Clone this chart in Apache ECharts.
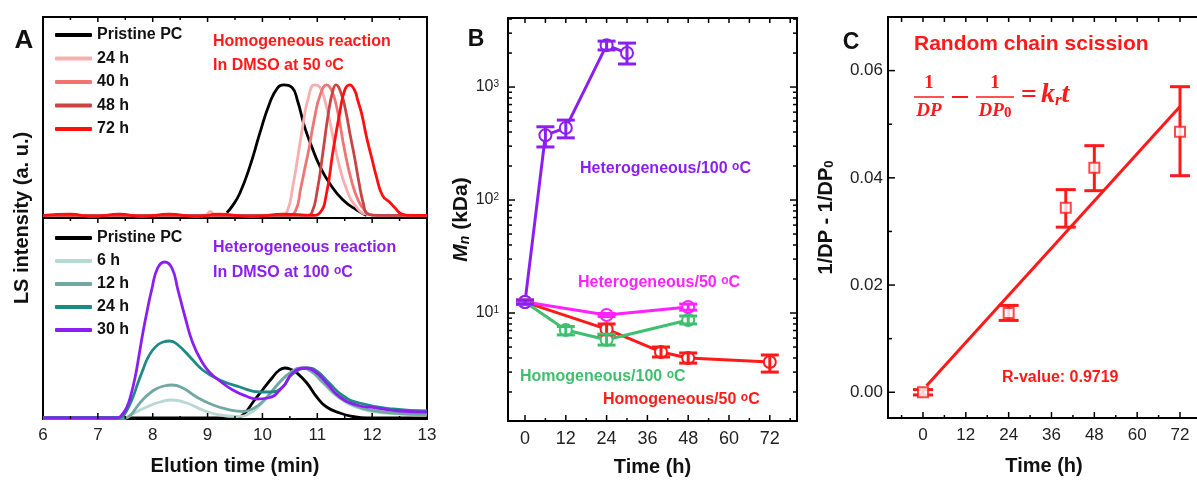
<!DOCTYPE html>
<html><head><meta charset="utf-8">
<script src="https://cdn.jsdelivr.net/npm/echarts@6/dist/echarts.min.js"></script>
<style>html,body{margin:0;padding:0;background:#fff}#c{width:1197px;height:480px}</style>
</head><body><div id="c"></div>
<script>
// ---------- Panel A (top): homogeneous reaction, DMSO 50 °C — normalized LS intensity ----------
const aTopPristineT = [9.35, 9.45, 9.59, 9.77, 9.95, 10.13, 10.28, 10.39, 10.54, 10.64, 10.77, 10.9, 11.05, 11.23, 11.46, 11.72, 11.9];
const aTopPristineV = [0.03, 0.08, 0.18, 0.38, 0.63, 0.86, 0.98, 1.0, 0.98, 0.88, 0.68, 0.53, 0.38, 0.25, 0.13, 0.05, 0.01];
const aTop24T = [6, 8, 8.95, 9.05, 9.15, 10.35, 10.46, 10.55, 10.64, 10.74, 10.83, 10.95, 11.05, 11.14, 11.26, 11.37, 11.54, 11.72, 11.9, 12.2, 13];
const aTop24V = [0.01, 0.01, 0.01, 0.04, 0.01, 0.01, 0.05, 0.22, 0.44, 0.7, 0.89, 1.0, 0.98, 0.88, 0.66, 0.44, 0.2, 0.07, 0.02, 0.01, 0.01];
const aTop40T = [6, 8.0, 10.45, 10.6, 10.7, 10.78, 10.85, 10.95, 11.05, 11.17, 11.27, 11.37, 11.5, 11.62, 11.75, 11.88, 12.0, 12.3, 13];
const aTop40V = [0.01, 0.01, 0.01, 0.04, 0.22, 0.38, 0.52, 0.75, 0.92, 1.0, 0.95, 0.8, 0.5, 0.28, 0.12, 0.04, 0.01, 0.01, 0.01];
const aTop48T = [6, 8, 10.8, 10.9, 11.0, 11.1, 11.2, 11.28, 11.34, 11.44, 11.52, 11.6, 11.68, 11.76, 11.84, 11.92, 12.1, 13];
const aTop48V = [0.01, 0.01, 0.01, 0.03, 0.2, 0.48, 0.78, 0.95, 1.0, 0.93, 0.8, 0.62, 0.45, 0.26, 0.1, 0.02, 0.01, 0.01];
const aTop72T = [6, 6.5, 6.9, 7.4, 7.8, 8.3, 8.8, 9.2, 9.8, 10.4, 10.9, 11.05, 11.17, 11.28, 11.41, 11.5, 11.59, 11.68, 11.74, 11.81, 11.9, 11.99, 12.08, 12.19, 12.32, 12.41, 12.54, 12.7, 13];
const aTop72V = [0.01, 0.02, 0.0, 0.02, 0.0, 0.02, 0.0, 0.02, 0.0, 0.02, 0.01, 0.03, 0.18, 0.48, 0.79, 0.96, 1.0, 0.96, 0.88, 0.78, 0.6, 0.45, 0.3, 0.16, 0.11, 0.07, 0.02, 0.01, 0.01];

// ---------- Panel A (bottom): heterogeneous reaction, DMSO 100 °C ----------
const aBotPristineT = [6, 9.5, 9.6, 9.7, 9.83, 10.0, 10.19, 10.3, 10.41, 10.52, 10.63, 10.81, 10.99, 11.17, 11.41, 11.65, 11.9, 13];
const aBotPristineV = [0, 0, 0.03, 0.12, 0.32, 0.56, 0.82, 0.95, 1.0, 0.97, 0.9, 0.7, 0.42, 0.22, 0.1, 0.03, 0.0, 0.0];
const aBot6T = [6, 7.5, 7.58, 7.7, 7.89, 8.13, 8.35, 8.62, 8.91, 9.22, 9.53, 9.75, 9.95, 10.15, 10.35, 10.55, 10.7, 10.9, 11.1, 11.4, 11.7, 12.0, 12.5, 13];
const aBot6V = [0, 0, 0.05, 0.12, 0.22, 0.32, 0.36, 0.3, 0.16, 0.06, 0.03, 0.08, 0.25, 0.5, 0.75, 0.93, 1.0, 0.92, 0.7, 0.4, 0.22, 0.13, 0.08, 0.06];
const aBot12T = [6, 7.5, 7.6, 7.71, 7.83, 7.95, 8.06, 8.17, 8.35, 8.55, 8.8, 9.1, 9.41, 9.65, 9.85, 10.05, 10.3, 10.5, 10.7, 10.9, 11.1, 11.4, 11.7, 12.0, 12.5, 13];
const aBot12V = [0, 0, 0.06, 0.22, 0.38, 0.5, 0.58, 0.63, 0.66, 0.6, 0.42, 0.26, 0.16, 0.13, 0.2, 0.38, 0.7, 0.9, 1.0, 0.93, 0.72, 0.42, 0.24, 0.15, 0.09, 0.07];
const aBot24T = [6, 7.4, 7.46, 7.55, 7.64, 7.73, 7.82, 7.9, 8.0, 8.1, 8.19, 8.31, 8.46, 8.68, 8.91, 9.22, 9.59, 9.95, 10.15, 10.37, 10.55, 10.83, 11.0, 11.2, 11.46, 11.77, 12.38, 13];
const aBot24V = [0.01, 0.01, 0.04, 0.2, 0.42, 0.7, 0.96, 1.18, 1.36, 1.47, 1.52, 1.54, 1.46, 1.22, 0.96, 0.76, 0.62, 0.52, 0.52, 0.62, 0.88, 1.0, 0.93, 0.72, 0.45, 0.3, 0.18, 0.14];
const aBot30T = [6, 7.35, 7.45, 7.53, 7.6, 7.68, 7.75, 7.82, 7.9, 7.98, 8.09, 8.22, 8.35, 8.46, 8.59, 8.73, 8.91, 9.05, 9.2, 9.46, 9.7, 9.9, 10.1, 10.37, 10.55, 10.8, 10.99, 11.17, 11.41, 11.72, 12.08, 12.5, 13];
const aBot30V = [0, 0, 0.08, 0.22, 0.45, 0.82, 1.25, 1.7, 2.15, 2.56, 3.0, 3.12, 3.0, 2.56, 2.02, 1.5, 1.1, 0.9, 0.76, 0.56, 0.44, 0.38, 0.4, 0.62, 0.9, 1.0, 0.9, 0.7, 0.42, 0.26, 0.2, 0.14, 0.12];
const aXMajor = [7, 8, 9, 10, 11, 12];
const aXMinor = [6.5, 7.5, 8.5, 9.5, 10.5, 11.5, 12.5];

// ---------- Panel B: Mn (kDa) vs time (h) ----------
const bHet100T = [0, 6, 12, 24, 30];
const bHet100M = [12.5, 375, 435, 2350, 2000];
const bHet100Lo = [12.0, 295, 355, 2130, 1600];
const bHet100Hi = [13.0, 445, 510, 2550, 2450];
const bHet50T = [0, 24, 48];
const bHet50M = [12.5, 9.6, 11.3];
const bHet50Lo = [12.0, 9.3, 10.6];
const bHet50Hi = [13.0, 9.9, 12.0];
const bHom100T = [0, 12, 24, 48];
const bHom100M = [12.5, 7.07, 5.8, 8.67];
const bHom100Lo = [12.0, 6.4, 5.2, 8.0];
const bHom100Hi = [13.0, 7.6, 6.5, 9.4];
const bHom50T = [0, 24, 40, 48, 72];
const bHom50M = [12.5, 7.2, 4.52, 4.0, 3.68];
const bHom50Lo = [12.0, 6.4, 4.08, 3.6, 3.0];
const bHom50Hi = [13.0, 8.0, 5.0, 4.43, 4.25];
const bXMajor = [0, 12, 24, 36, 48, 60, 72];
const bXMinor = [6, 18, 30, 42, 54, 66, 78];
const bXTop = [0, 6, 12, 18, 24, 30, 36, 42, 48, 54, 60, 66, 72, 78];
const bYMajor = [10, 100, 1000];
const bYMinor = [2, 3, 4, 5, 6, 7, 8, 9, 20, 30, 40, 50, 60, 70, 80, 90, 200, 300, 400, 500, 600, 700, 800, 900, 2000, 3000, 4000];

// ---------- Panel C: 1/DP - 1/DP0 vs time ----------
const cT = [0, 24, 40, 48, 72];
const cV = [0, 0.0148, 0.0344, 0.0419, 0.0486];
const cLo = [-0.0005, 0.0134, 0.0308, 0.0376, 0.0404];
const cHi = [0.0005, 0.0162, 0.0378, 0.0460, 0.0570];
const cFitT = [1, 72];
const cFitV = [0.00123, 0.0533];
const cXMajor = [0, 12, 24, 36, 48, 60, 72];
const cXMinor = [-6, 6, 18, 30, 42, 54, 66];
const cXTop = [-6, 0, 6, 12, 18, 24, 30, 36, 42, 48, 54, 60, 66, 72];
const cYMajor = [0, 0.02, 0.04, 0.06];
const cYMinor = [0.01, 0.03, 0.05];

// ---------- axis ranges ----------
const aTopY = [-0.01, 1.516], aBotY = [-0.02, 4.0], aX = [6, 13];
const bX = [-5, 80], bY = [1.107, 4085];
const cX = [-9.8, 77.6], cY = [-0.0048, 0.07];

// ---------- styling ----------
const FF = "'Liberation Sans', Arial, sans-serif";
const SERIF = "'Liberation Serif', 'DejaVu Serif', serif";
const PURPLE = '#8B1FF2', MAGENTA = '#FF22FF', GREEN = '#3FBF6F', RED = '#FF1A1A';
const cols = {p0: '#000000', h24: '#F7B0B0', h40: '#F07575', h48: '#C84545', h72: '#FF1010',
  g6: '#B8D8D4', g12: '#72A8A4', g24: '#1E8A86', g30: PURPLE};

const zip = (xs, ys) => xs.map((x, i) => [x, ys[i]]);
const zip3 = (xs, a, b) => xs.map((x, i) => [x, a[i], b[i]]);
const NOLINE = {show: false, onZero: false};

function curve(name, T, V, color, xi, yi) {
  return {name, type: 'line', xAxisIndex: xi, yAxisIndex: yi, data: zip(T, V), showSymbol: false,
    smooth: 0.5, lineStyle: {color, width: 2.8}, itemStyle: {color}, z: 2, silent: true};
}
function errSeries(T, Lo, Hi, color, xi, yi, capW, z) {
  return {type: 'custom', xAxisIndex: xi, yAxisIndex: yi, data: zip3(T, Lo, Hi), z, silent: true,
    encode: {x: 0, y: [1, 2]},
    renderItem: function (params, api) {
      const x = api.value(0), lo = api.value(1), hi = api.value(2);
      const a = api.coord([x, lo]), b = api.coord([x, hi]);
      const st = {stroke: color, lineWidth: 3};
      return {type: 'group', children: [
        {type: 'line', shape: {x1: a[0], y1: a[1], x2: b[0], y2: b[1]}, style: st},
        {type: 'line', shape: {x1: a[0] - capW / 2, y1: a[1], x2: a[0] + capW / 2, y2: a[1]}, style: st},
        {type: 'line', shape: {x1: b[0] - capW / 2, y1: b[1], x2: b[0] + capW / 2, y2: b[1]}, style: st}
      ]};
    }};
}
function mnSeries(T, M, color) {
  return {type: 'line', xAxisIndex: 2, yAxisIndex: 2, data: zip(T, M), symbol: 'emptyCircle', symbolSize: 12,
    lineStyle: {color, width: 3}, itemStyle: {color, borderWidth: 2}, z: 2, silent: true};
}
const lab = (size, margin) => ({show: true, fontSize: size, color: '#222', fontFamily: FF, margin});
const nameStyle = {fontSize: 20, fontWeight: 'bold', color: '#111', fontFamily: FF};
const gridBase = {show: true, borderColor: '#000', borderWidth: 2, backgroundColor: 'transparent', containLabel: false, outerBoundsMode: 'none'};
const common = {axisLine: NOLINE, axisTick: {show: false}, splitLine: {show: false}};

const GRIDS = [
  {left: 43, top: 17, width: 384, height: 201},
  {left: 43, top: 218, width: 384, height: 201},
  {left: 508, top: 18, width: 289, height: 403},
  {left: 888, top: 17, width: 312, height: 401}
];

const xAxis = [
  Object.assign({gridIndex: 0, type: 'value', min: aX[0], max: aX[1], interval: 1, axisLabel: {show: false}}, common),
  Object.assign({gridIndex: 1, type: 'value', min: aX[0], max: aX[1], interval: 1, axisLabel: lab(17, 8),
    name: 'Elution time (min)', nameLocation: 'middle', nameGap: 37, nameTextStyle: nameStyle}, common),
  Object.assign({gridIndex: 2, type: 'value', min: bX[0], max: bX[1], axisLabel: Object.assign(lab(18, 9), {customValues: bXMajor}),
    name: 'Time (h)', nameLocation: 'middle', nameGap: 36, nameTextStyle: nameStyle}, common),
  Object.assign({gridIndex: 3, type: 'value', min: cX[0], max: cX[1], axisLabel: Object.assign(lab(17, 9), {customValues: cXMajor}),
    name: 'Time (h)', nameLocation: 'middle', nameGap: 38, nameTextStyle: nameStyle}, common)
];

const yAxis = [
  Object.assign({gridIndex: 0, type: 'value', min: aTopY[0], max: aTopY[1], axisLabel: {show: false}}, common),
  Object.assign({gridIndex: 1, type: 'value', min: aBotY[0], max: aBotY[1], axisLabel: {show: false}}, common),
  Object.assign({gridIndex: 2, type: 'log', logBase: 10, min: bY[0], max: bY[1], position: 'left',
    axisLabel: {show: true, margin: 9, customValues: bYMajor,
      formatter: v => '{b|10}{s|' + Math.round(Math.log10(v)) + '}',
      rich: {b: {fontSize: 16, color: '#222', fontFamily: FF}, s: {fontSize: 10, color: '#222', fontFamily: FF, verticalAlign: 'top'}}},
    name: '{m|M}{n|n}{k| (kDa)}', nameLocation: 'middle', nameGap: 36,
    nameTextStyle: {rich: {
      m: {fontSize: 21, fontWeight: 'bold', fontStyle: 'italic', color: '#111', fontFamily: FF},
      n: {fontSize: 14, fontWeight: 'bold', fontStyle: 'italic', color: '#111', fontFamily: FF, verticalAlign: 'bottom'},
      k: {fontSize: 21, fontWeight: 'bold', color: '#111', fontFamily: FF}}}}, common),
  Object.assign({gridIndex: 3, type: 'value', min: cY[0], max: cY[1], position: 'left',
    axisLabel: Object.assign(lab(17, 5), {customValues: cYMajor, formatter: v => v.toFixed(2)}),
    name: '{a|1/DP - 1/DP}{b|0}', nameLocation: 'middle', nameGap: 52,
    nameTextStyle: {rich: {a: {fontSize: 20, fontWeight: 'bold', color: '#111', fontFamily: FF},
      b: {fontSize: 13, fontWeight: 'bold', color: '#111', fontFamily: FF, verticalAlign: 'bottom'}}}}, common)
];

const series = [
  curve('Pristine PC', aTopPristineT, aTopPristineV, cols.p0, 0, 0),
  curve('24 h', aTop24T, aTop24V, cols.h24, 0, 0),
  curve('40 h', aTop40T, aTop40V, cols.h40, 0, 0),
  curve('48 h', aTop48T, aTop48V, cols.h48, 0, 0),
  curve('72 h', aTop72T, aTop72V, cols.h72, 0, 0),
  curve('Pristine PC', aBotPristineT, aBotPristineV, cols.p0, 1, 1),
  curve('6 h', aBot6T, aBot6V, cols.g6, 1, 1),
  curve('12 h', aBot12T, aBot12V, cols.g12, 1, 1),
  curve('24 h ', aBot24T, aBot24V, cols.g24, 1, 1),
  curve('30 h', aBot30T, aBot30V, cols.g30, 1, 1),
  mnSeries(bHom50T, bHom50M, RED),
  mnSeries(bHom100T, bHom100M, GREEN),
  mnSeries(bHet50T, bHet50M, MAGENTA),
  mnSeries(bHet100T, bHet100M, PURPLE),
  errSeries(bHom50T, bHom50Lo, bHom50Hi, RED, 2, 2, 18, 3),
  errSeries(bHom100T, bHom100Lo, bHom100Hi, GREEN, 2, 2, 18, 3),
  errSeries(bHet50T, bHet50Lo, bHet50Hi, MAGENTA, 2, 2, 18, 3),
  errSeries(bHet100T, bHet100Lo, bHet100Hi, PURPLE, 2, 2, 18, 3),
  errSeries(cT, cLo, cHi, RED, 3, 3, 20, 3),
  {type: 'line', xAxisIndex: 3, yAxisIndex: 3, data: zip(cFitT, cFitV), showSymbol: false, lineStyle: {color: RED, width: 3}, z: 4, silent: true},
  {type: 'scatter', xAxisIndex: 3, yAxisIndex: 3, data: zip(cT, cV), symbol: 'rect', symbolSize: 10,
    itemStyle: {color: '#fff', borderColor: RED, borderWidth: 2}, z: 5, silent: true}
];

const legendBase = {orient: 'vertical', left: 55, itemWidth: 37, itemHeight: 4, icon: 'roundRect', padding: 0,
  selectedMode: false, textStyle: {fontSize: 16, fontWeight: 'bold', color: '#111', fontFamily: FF, lineHeight: 16}};

function txt(x, y, text, color, size) {
  return {type: 'text', x, y, silent: true, style: {text, fill: color, fontSize: size, fontWeight: 'bold',
    fontFamily: FF, align: 'left', verticalAlign: 'middle'}};
}
function degTxt(x, y, before, color, size) {
  return {type: 'text', x, y, silent: true, style: {text: '{t|' + before + '}{o|o}{t|C}', fill: color,
    align: 'left', verticalAlign: 'middle',
    rich: {t: {fontSize: size, fontWeight: 'bold', fontFamily: FF, fill: color},
           o: {fontSize: Math.round(size * 0.72), fontWeight: 'bold', fontFamily: FF, fill: color, verticalAlign: 'top'}}}};
}
const serif = (x, y, text, size, align, italic) => ({type: 'text', x, y, silent: true, style: {text, fill: RED, fontSize: size,
  fontWeight: 'bold', fontStyle: italic ? 'italic' : 'normal', fontFamily: SERIF, align: align || 'center', verticalAlign: 'middle'}});
const ctr = (x, y, text, size) => ({type: 'text', x, y, silent: true, style: {text, fill: '#111', fontSize: size, fontWeight: 'bold', fontFamily: FF, align: 'center', verticalAlign: 'middle'}});

const graphic = [
  ctr(24, 41, 'A', 26),
  ctr(476, 40, 'B', 23),
  ctr(851, 43, 'C', 23),
  {type: 'text', x: 22, y: 218, rotation: Math.PI / 2, silent: true,
    style: {text: 'LS intensity (a. u.)', fill: '#111', fontSize: 20, fontWeight: 'bold', fontFamily: FF, align: 'center', verticalAlign: 'middle'}},
  txt(213, 42, 'Homogeneous reaction', RED, 16),
  degTxt(213, 66, 'In DMSO at 50 ', RED, 16),
  txt(213, 248, 'Heterogeneous reaction', PURPLE, 16),
  degTxt(213, 273, 'In DMSO at 100 ', PURPLE, 16),
  degTxt(580, 169, 'Heterogeneous/100 ', PURPLE, 16),
  degTxt(578, 283, 'Heterogeneous/50 ', MAGENTA, 16),
  degTxt(520, 377, 'Homogeneous/100 ', GREEN, 16),
  degTxt(603, 400, 'Homogeneous/50 ', RED, 16),
  txt(914, 44, 'Random chain scission', RED, 21),
  txt(1002, 378, 'R-value: 0.9719', RED, 16),
  serif(929, 83, '1', 19),
  {type: 'line', silent: true, shape: {x1: 914, y1: 97, x2: 944, y2: 97}, style: {stroke: RED, lineWidth: 1.5}},
  serif(929, 111, 'DP', 19, 'center', true),
  {type: 'line', silent: true, shape: {x1: 952, y1: 97, x2: 968, y2: 97}, style: {stroke: RED, lineWidth: 2}},
  serif(995, 83, '1', 19),
  {type: 'line', silent: true, shape: {x1: 976, y1: 97, x2: 1014, y2: 97}, style: {stroke: RED, lineWidth: 1.5}},
  {type: 'text', x: 995, y: 111, silent: true, style: {text: '{a|DP}{b|0}', fill: RED, align: 'center', verticalAlign: 'middle',
    rich: {a: {fontSize: 19, fontWeight: 'bold', fontStyle: 'italic', fontFamily: SERIF, fill: RED},
           b: {fontSize: 15, fontWeight: 'bold', fontFamily: SERIF, fill: RED, verticalAlign: 'bottom'}}}},
  serif(1029, 96, '=', 28),
  {type: 'text', x: 1041, y: 95, silent: true, style: {text: '{k|k}{r|r}{k|t}', fill: RED, align: 'left', verticalAlign: 'middle',
    rich: {k: {fontSize: 28, fontWeight: 'bold', fontStyle: 'italic', fontFamily: SERIF, fill: RED},
           r: {fontSize: 17, fontWeight: 'bold', fontStyle: 'italic', fontFamily: SERIF, fill: RED, verticalAlign: 'bottom'}}}}
];

// inward tick marks as graphic lines (drawn in the same pass as the other graphic elements)
const AXES = [
  {x: aX, y: aTopY, logY: false}, {x: aX, y: aBotY, logY: false},
  {x: bX, y: bY, logY: true}, {x: cX, y: cY, logY: false}
];
function toPx(gi, pt) {
  const g = GRIDS[gi], ax = AXES[gi];
  const fx = (pt[0] - ax.x[0]) / (ax.x[1] - ax.x[0]);
  const fy = ax.logY
    ? (Math.log10(pt[1]) - Math.log10(ax.y[0])) / (Math.log10(ax.y[1]) - Math.log10(ax.y[0]))
    : (pt[1] - ax.y[0]) / (ax.y[1] - ax.y[0]);
  return [g.left + fx * g.width, g.top + g.height - fy * g.height];
}
const tickEls = [];
function addTicks(gi, pts, side, len) {
  pts.forEach(function (pt) {
    const p = toPx(gi, pt);
    let x2 = p[0], y2 = p[1];
    if (side === 'bottom') y2 -= len; else if (side === 'top') y2 += len;
    else if (side === 'left') x2 += len; else x2 -= len;
    tickEls.push({type: 'line', silent: true, z: 100,
      shape: {x1: p[0], y1: p[1], x2: x2, y2: y2}, style: {stroke: '#000', lineWidth: 1.5}});
  });
}
const xt = (vals, yEdge) => vals.map(v => [v, yEdge]);
const yt = (vals, xEdge) => vals.map(v => [xEdge, v]);
addTicks(0, xt(aXMajor, aTopY[1]), 'top', 5); addTicks(0, xt(aXMinor, aTopY[1]), 'top', 3);
addTicks(1, xt(aXMajor, aBotY[1]), 'top', 5); addTicks(1, xt(aXMinor, aBotY[1]), 'top', 3);
addTicks(1, xt(aXMajor, aBotY[0]), 'bottom', 6); addTicks(1, xt(aXMinor, aBotY[0]), 'bottom', 3);
addTicks(2, xt(bXMajor, bY[0]), 'bottom', 6); addTicks(2, xt(bXMinor, bY[0]), 'bottom', 3);
addTicks(2, xt(bXTop, bY[1]), 'top', 5);
addTicks(2, yt(bYMajor, bX[0]), 'left', 7); addTicks(2, yt(bYMinor, bX[0]), 'left', 4);
addTicks(2, yt(bYMajor, bX[1]), 'right', 7); addTicks(2, yt(bYMinor, bX[1]), 'right', 4);
addTicks(3, xt(cXMajor, cY[0]), 'bottom', 6); addTicks(3, xt(cXMinor, cY[0]), 'bottom', 3);
addTicks(3, xt(cXTop, cY[1]), 'top', 5);
addTicks(3, yt(cYMajor, cX[0]), 'left', 7); addTicks(3, yt(cYMinor, cX[0]), 'left', 4);

const option = {
  animation: false,
  backgroundColor: '#fff',
  textStyle: {fontFamily: FF},
  grid: GRIDS.map(g => Object.assign({}, g, gridBase)),
  legend: [
    Object.assign({data: ['Pristine PC', '24 h', '40 h', '48 h', '72 h'], top: 27, itemGap: 7.5}, legendBase),
    Object.assign({data: ['Pristine PC', '6 h', '12 h', '24 h ', '30 h'], top: 230, itemGap: 7}, legendBase)
  ],
  xAxis, yAxis, series,
  graphic: graphic.concat(tickEls)
};
const chart = echarts.init(document.getElementById('c'), null, {renderer: 'canvas'});
chart.setOption(option);
</script></body></html>
